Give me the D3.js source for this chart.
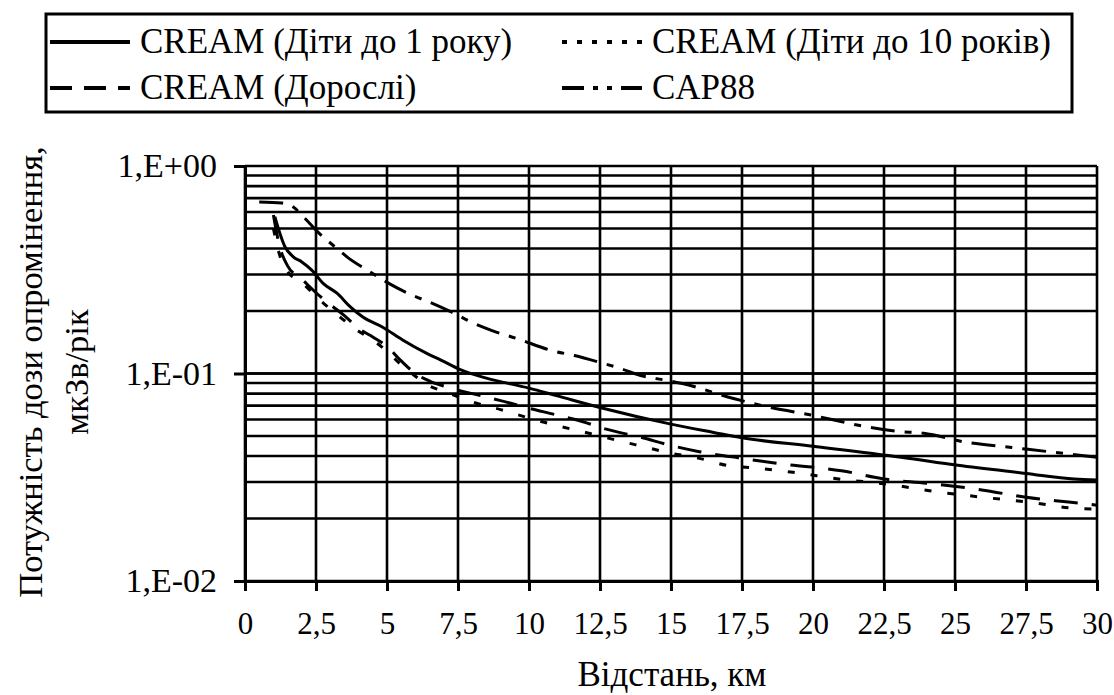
<!DOCTYPE html>
<html>
<head>
<meta charset="utf-8">
<script src="https://cdn.jsdelivr.net/npm/d3@7"></script>
<style>
  body { margin: 0; background: #fff; }
  svg text { font-family: 'Liberation Serif', 'DejaVu Serif', 'Noto Serif', serif; fill: #000; }
</style>
</head>
<body>
<div id="chart"></div>
<script>
// distance, km / dose rate, uSv/year
var infantData = [[1.05,0.57],[1.4,0.41],[1.7,0.365],[2.0,0.345],[2.35,0.315],[2.75,0.272],[3.25,0.243],[3.7,0.21],[4.15,0.187],[4.85,0.167],[5.55,0.145],[6.4,0.125],[6.9,0.116],[7.6,0.104],[8.5,0.095],[10,0.085],[11,0.078],[12.6,0.068],[15,0.057],[16.5,0.052],[17.5,0.049],[20,0.0446],[23.1,0.0395],[25.1,0.0361],[27.5,0.033],[29.2,0.031],[30,0.0307]];
var childData = [[1.0,0.5],[1.2,0.38],[1.5,0.31],[2,0.275],[2.5,0.235],[3,0.205],[3.5,0.18],[4,0.16],[4.5,0.145],[5,0.128],[5.5,0.11],[6,0.097],[6.5,0.087],[7,0.082],[8,0.073],[9,0.067],[10,0.061],[11,0.056],[12,0.052],[13,0.048],[14,0.0445],[15,0.0413],[16,0.039],[17,0.036],[18,0.035],[19.3,0.0334],[21,0.0309],[22.6,0.0293],[24.2,0.0271],[26,0.0253],[27.6,0.024],[29.2,0.0224],[30,0.0222]];
var adultData = [[1.0,0.58],[1.2,0.42],[1.5,0.33],[2,0.285],[2.5,0.245],[3,0.215],[3.5,0.19],[4,0.165],[4.5,0.15],[5,0.135],[5.5,0.115],[6,0.1],[6.5,0.092],[7,0.087],[7.5,0.083],[8,0.08],[9,0.074],[10,0.068],[11,0.063],[12,0.058],[12.5,0.055],[14,0.049],[15,0.045],[16,0.042],[17.5,0.039],[19,0.0365],[21,0.034],[22.5,0.031],[24,0.0296],[26,0.0274],[27.5,0.0253],[29,0.024],[30,0.0232]];
var cap88Data = [[0.5,0.67],[1.3,0.663],[1.7,0.634],[2.1,0.561],[2.57,0.48],[3.24,0.40],[3.6,0.364],[4.3,0.315],[5,0.275],[5.9,0.238],[6.6,0.218],[7.3,0.197],[8,0.176],[8.7,0.161],[9.6,0.147],[10.8,0.129],[11.6,0.122],[12.5,0.113],[13.2,0.106],[13.9,0.098],[14.9,0.0924],[15.4,0.0895],[17.2,0.0758],[18.5,0.0686],[20,0.0628],[21.6,0.0563],[23,0.0526],[23.9,0.0515],[25.4,0.0466],[27,0.044],[28.5,0.0417],[30,0.0395]];

var seriesNames = ["CREAM (Діти до 1 року)", "CREAM (Діти до 10 років)", "CREAM (Дорослі)", "CAP88"];
var xTicks = [0, 2.5, 5, 7.5, 10, 12.5, 15, 17.5, 20, 22.5, 25, 27.5, 30];
var yTicks = [1, 0.1, 0.01];
var yTickLabels = ["1,E+00", "1,E-01", "1,E-02"];

var series = [
  {name: seriesNames[0], data: infantData, dash: null},
  {name: seriesNames[1], data: childData, dash: "7,16"},
  {name: seriesNames[2], data: adultData, dash: "24,14"},
  {name: seriesNames[3], data: cap88Data, dash: "24,10,7,10"}
];

var fontFamily = "'Liberation Serif', 'DejaVu Serif', 'Noto Serif', serif";

var svgWidth = 1114, svgHeight = 695;
var margin = {top: 166, right: 17, bottom: 114, left: 245};
var width = svgWidth - margin.left - margin.right;
var height = svgHeight - margin.top - margin.bottom;

var svg = d3.select("#chart").append("svg")
  .attr("width", svgWidth)
  .attr("height", svgHeight)
  .attr("font-family", fontFamily);

var chartGroup = svg.append("g")
  .attr("transform", `translate(${margin.left}, ${margin.top})`);

var x = d3.scaleLinear().domain([0, 30]).range([0, width]);
var y = d3.scaleLog().domain([0.01, 1]).range([height, 0]);

// grid: every 1..9 of each decade
var minor = [];
[0.01, 0.1].forEach(function(d) {
  for (var k = 1; k <= 10; k++) minor.push(d * k);
});
chartGroup.append("g").selectAll("line")
  .data(minor)
  .enter().append("line")
  .attr("x1", 0).attr("x2", width)
  .attr("y1", d => y(d)).attr("y2", d => y(d))
  .attr("stroke", "#000").attr("stroke-width", 2.6);

chartGroup.append("g").selectAll("line")
  .data(xTicks)
  .enter().append("line")
  .attr("x1", d => x(d)).attr("x2", d => x(d))
  .attr("y1", 0).attr("y2", height)
  .attr("stroke", "#000").attr("stroke-width", 2.6);

// axes
var bottomAxis = d3.axisBottom(x)
  .tickValues(xTicks)
  .tickSize(10)
  .tickPadding(21)
  .tickFormat(d => String(d).replace(".", ","));
var xAxis = chartGroup.append("g")
  .attr("transform", `translate(0, ${height})`)
  .call(bottomAxis);

var leftAxis = d3.axisLeft(y)
  .tickValues(yTicks)
  .tickSize(11)
  .tickPadding(17)
  .tickFormat((d, i) => yTickLabels[i]);
var yAxis = chartGroup.append("g").call(leftAxis);

[xAxis, yAxis].forEach(function(a) {
  a.attr("font-family", fontFamily);
  a.select(".domain").attr("stroke", "#000").attr("stroke-width", 3);
  a.selectAll(".tick line").attr("stroke", "#000").attr("stroke-width", 3);
  a.selectAll(".tick text").attr("fill", "#000");
});
xAxis.selectAll(".tick text").style("font-size", "31px");
yAxis.selectAll(".tick text").style("font-size", "34px");

// curves
var line = d3.line()
  .x(d => x(d[0]))
  .y(d => y(d[1]))
  .curve(d3.curveMonotoneX);

chartGroup.append("g").selectAll("path")
  .data(series)
  .enter().append("path")
  .attr("d", d => line(d.data))
  .attr("fill", "none")
  .attr("stroke", "#000")
  .attr("stroke-width", 3)
  .attr("stroke-dasharray", d => d.dash);

// axis titles
svg.append("text")
  .attr("x", 672)
  .attr("y", 686)
  .attr("text-anchor", "middle")
  .style("font-size", "35px")
  .text("Відстань, км");

var yTitle = svg.append("text")
  .attr("transform", "translate(0, 372) rotate(-90)")
  .attr("text-anchor", "middle")
  .style("font-size", "34.5px");
yTitle.append("tspan").attr("x", 0).attr("y", 42).text("Потужність дози опромінення,");
yTitle.append("tspan").attr("x", 0).attr("y", 88).text("мкЗв/рік");

// legend
var legend = svg.append("g");
legend.append("rect")
  .attr("x", 46).attr("y", 14)
  .attr("width", 1026).attr("height", 98)
  .attr("fill", "none")
  .attr("stroke", "#000").attr("stroke-width", 3);

var legendPos = [[50, 42], [562, 42], [50, 88], [562, 88]];
var legendDash = [null, "5,10", "22,12", "22,9,5,9,5,9"];
var legendItems = legend.selectAll("g.item")
  .data(series)
  .enter().append("g")
  .attr("class", "item")
  .attr("transform", (d, i) => `translate(${legendPos[i][0]}, ${legendPos[i][1]})`);

legendItems.append("line")
  .attr("x1", 0).attr("x2", 80)
  .attr("y1", 0).attr("y2", 0)
  .attr("stroke", "#000").attr("stroke-width", 4)
  .attr("stroke-dasharray", (d, i) => legendDash[i]);

legendItems.append("text")
  .attr("x", 90)
  .attr("y", 11)
  .style("font-size", "35px")
  .text(d => d.name);
</script>
</body>
</html>
